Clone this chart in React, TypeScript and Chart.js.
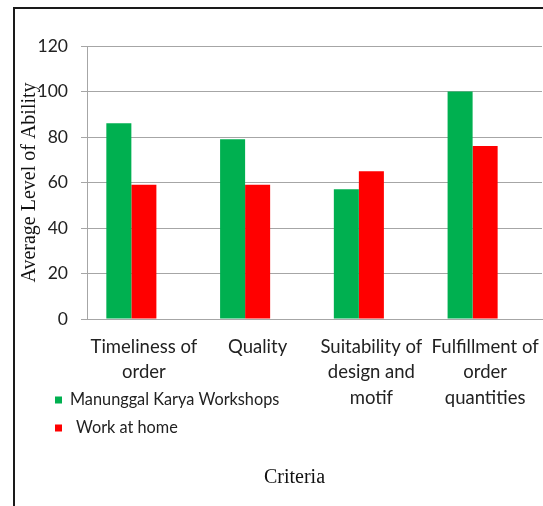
import React, { useEffect, useRef } from "react";
import { Chart, registerables } from "chart.js";

Chart.register(...registerables);

const categories: string[][] = [
  ["Timeliness of", "order"],
  ["Quality"],
  ["Suitability of", "design and", "motif"],
  ["Fulfillment of", "order", "quantities"],
];
const seriesNames = ["Manunggal Karya Workshops", "Work at home"];
const workshopValues = [86, 79, 57, 100];
const homeValues = [59, 59, 65, 76];
// the source chart keeps an empty third series slot in every group
const emptyValues = [null, null, null, null];
const yTitle = "Average Level of Ability";
const xTitle = "Criteria";

const SANS = "Lato, 'Open Sans', sans-serif";
const SERIF = "'Liberation Serif', 'DejaVu Serif', serif";

const extrasPlugin = {
  id: "extras",
  afterDraw(chart: any) {
    const ctx = chart.ctx;
    ctx.save();
    // legend (vertical, lower left)
    const rows = [
      { y: 400, textX: 70 },
      { y: 428, textX: 76 },
    ];
    ctx.font = `16.3px ${SANS}`;
    ctx.textBaseline = "middle";
    ctx.textAlign = "left";
    seriesNames.forEach((name, i) => {
      const ds = chart.data.datasets[i];
      ctx.fillStyle = ds.backgroundColor;
      ctx.fillRect(55, rows[i].y - 3.5, 7, 7);
      ctx.fillStyle = "#222";
      ctx.fillText(name, rows[i].textX, rows[i].y);
    });
    // axis caption
    ctx.font = `20px ${SERIF}`;
    ctx.textAlign = "center";
    ctx.fillStyle = "#111";
    ctx.fillText(xTitle, 294.5, 478);
    ctx.restore();
  },
};

export default function App() {
  const ref = useRef<HTMLCanvasElement | null>(null);
  useEffect(() => {
    if (!ref.current) return;
    const chart = new Chart(ref.current, {
      type: "bar",
      data: {
        labels: categories,
        datasets: [
          {
            label: seriesNames[0],
            data: workshopValues,
            backgroundColor: "#00b050",
            borderWidth: 0,
          },
          {
            label: seriesNames[1],
            data: homeValues,
            backgroundColor: "#ff0000",
            borderWidth: 0,
          },
          {
            label: "",
            data: emptyValues as any,
            backgroundColor: "rgba(0,0,0,0)",
            borderWidth: 0,
          },
        ],
      },
      options: {
        responsive: false,
        animation: false,
        devicePixelRatio: 1,
        layout: { padding: { left: 14, top: 46, right: 1, bottom: 87 } },
        datasets: {
          bar: { categoryPercentage: 0.66, barPercentage: 1 },
        },
        plugins: {
          legend: { display: false },
          tooltip: { enabled: false },
          title: { display: false },
        },
        scales: {
          x: {
            grid: { display: false, drawTicks: false },
            border: { display: true, color: "#a6a6a6", width: 1 },
            ticks: {
              color: "#222",
              padding: 15,
              maxRotation: 0,
              autoSkip: false,
              font: { family: SANS, size: 18.5, lineHeight: 1.38 },
            },
            afterFit(scale: any) {
              scale.height = 100;
              scale.paddingLeft = 0;
              scale.paddingRight = 0;
            },
          },
          y: {
            min: 0,
            max: 120,
            ticks: {
              stepSize: 20,
              color: "#222",
              padding: 13,
              font: { family: SANS, size: 17.5 },
            },
            grid: { color: "#a6a6a6", lineWidth: 1, tickLength: 6 },
            border: { display: true, color: "#a6a6a6", width: 1 },
            title: {
              display: true,
              text: yTitle,
              color: "#111",
              font: { family: SERIF, size: 20, lineHeight: 1.2 },
              padding: { top: 4, bottom: 0 },
            },
            afterFit(scale: any) {
              scale.width = 73;
              scale.paddingTop = 0;
              scale.paddingBottom = 0;
            },
          },
        },
      },
      plugins: [extrasPlugin],
    });
    return () => chart.destroy();
  }, []);

  return (
    <div
      style={{
        position: "fixed",
        left: 0,
        top: 0,
        width: 543,
        height: 506,
        overflow: "hidden",
        background: "#fff",
      }}
    >
      <div
        style={{
          position: "absolute",
          left: 13,
          top: 7,
          width: 700,
          height: 700,
          borderLeft: "2px solid #1a1a1a",
          borderTop: "2px solid #1a1a1a",
        }}
      />
      <canvas
        ref={ref}
        width={543}
        height={506}
        style={{ position: "absolute", left: 0, top: 0, width: 543, height: 506 }}
      />
    </div>
  );
}
